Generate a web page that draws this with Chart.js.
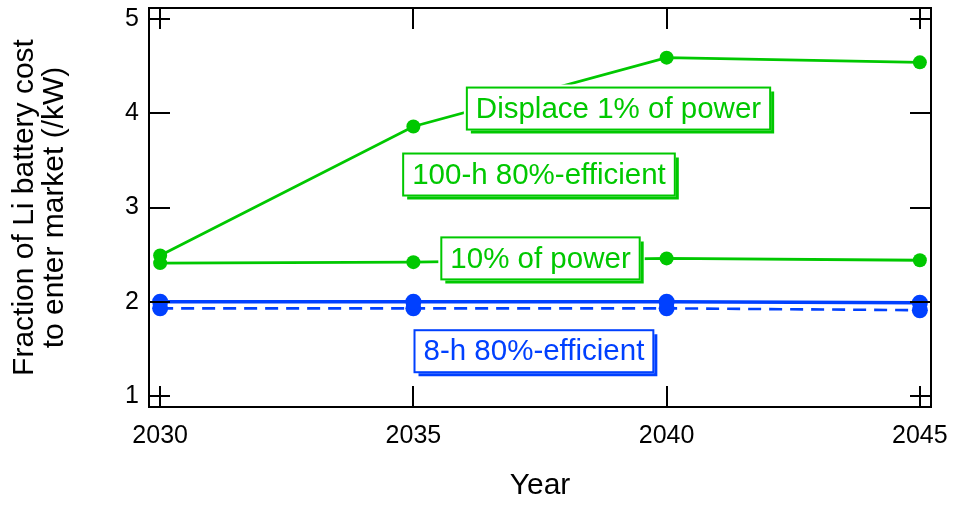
<!DOCTYPE html>
<html>
<head>
<meta charset="utf-8">
<script src="https://cdn.jsdelivr.net/npm/chart.js@4"></script>
<style>
  html, body { margin: 0; padding: 0; background: #fff; }
  #wrap { width: 954px; height: 506px; }
</style>
</head>
<body>
<div id="wrap"><canvas id="costChart" width="954" height="506"></canvas></div>
<script>
// values
const years = [2030, 2035, 2040, 2045];
const onePct100h = [2.49, 3.86, 4.59, 4.54];
const tenPct100h = [2.41, 2.42, 2.46, 2.44];
const onePct8h = [2.00, 2.00, 2.00, 1.99];
const tenPct8h = [1.93, 1.93, 1.93, 1.91];
const yTicks = [1, 2, 3, 4, 5];

const GREEN = '#00c800';
const BLUE = '#0040ff';
const FONT = "'Liberation Sans', Arial, Helvetica, sans-serif";

// boxed notes, placed in data units
const notes = [
    { text: 'Displace 1% of power', x: 2039.05, y: 4.05, color: GREEN },
    { text: '100-h 80%-efficient', x: 2037.48, y: 3.35, color: GREEN },
    { text: '10% of power', x: 2037.51, y: 2.46, color: GREEN },
    { text: '8-h 80%-efficient', x: 2037.38, y: 1.475, color: BLUE },
];

const toPoints = (vals) => years.map((yr, i) => ({ x: yr, y: vals[i] }));

const series = (vals, color, width, radius, dash) => ({
    data: toPoints(vals),
    borderColor: color,
    backgroundColor: color,
    borderWidth: width,
    borderDash: dash || [],
    pointRadius: radius,
    pointBorderWidth: 0,
    pointBackgroundColor: color,
    tension: 0,
    clip: false
});

// frame plus inward ticks on all four sides
const framePlugin = {
    id: 'frame',
    afterDatasetsDraw(chart) {
        const { ctx, chartArea: a, scales: { x, y } } = chart;
        const len = 21;
        ctx.save();
        ctx.strokeStyle = '#000';
        ctx.lineWidth = 2;
        ctx.beginPath();
        years.forEach(v => {
            const px = Math.round(x.getPixelForValue(v));
            ctx.moveTo(px, a.bottom); ctx.lineTo(px, a.bottom - len);
            ctx.moveTo(px, a.top); ctx.lineTo(px, a.top + len);
        });
        yTicks.forEach(v => {
            const py = Math.round(y.getPixelForValue(v));
            ctx.moveTo(a.left, py); ctx.lineTo(a.left + len, py);
            ctx.moveTo(a.right, py); ctx.lineTo(a.right - len, py);
        });
        ctx.stroke();
        ctx.strokeRect(a.left, a.top, a.right - a.left, a.bottom - a.top);
        ctx.restore();
    }
};

const notesPlugin = {
    id: 'notes',
    afterDatasetsDraw(chart) {
        const { ctx, scales: { x, y } } = chart;
        ctx.save();
        ctx.font = '29.5px ' + FONT;
        ctx.textAlign = 'center';
        ctx.textBaseline = 'middle';
        notes.forEach(n => {
            const cx = x.getPixelForValue(n.x);
            const cy = y.getPixelForValue(n.y);
            const w = ctx.measureText(n.text).width + 18;
            const h = 42;
            const l = cx - w / 2, t = cy - h / 2;
            ctx.fillStyle = '#fff';
            ctx.fillRect(l - 3, t - 3, w + 8, h + 8);
            ctx.strokeStyle = n.color;
            ctx.lineWidth = 2;
            ctx.strokeRect(l, t, w, h);
            // drop shadow on right and bottom
            ctx.lineWidth = 3;
            ctx.beginPath();
            ctx.moveTo(l + w + 2.5, t + 4);
            ctx.lineTo(l + w + 2.5, t + h + 2.5);
            ctx.lineTo(l + 4, t + h + 2.5);
            ctx.stroke();
            ctx.fillStyle = n.color;
            ctx.fillText(n.text, cx, cy + 1);
        });
        ctx.restore();
    }
};

const config = {
    type: 'line',
    data: {
        datasets: [
            series(onePct100h, GREEN, 2.8, 7),
            series(tenPct100h, GREEN, 2.8, 7),
            series(onePct8h, BLUE, 3.5, 8),
            series(tenPct8h, BLUE, 2.6, 8, [13, 8])
        ]
    },
    options: {
        responsive: false,
        animation: false,
        layout: { padding: { left: 0, right: 23, top: 8, bottom: 0 } },
        plugins: { legend: { display: false }, tooltip: { enabled: false } },
        scales: {
            x: {
                type: 'linear',
                min: 2029.78,
                max: 2045.22,
                afterBuildTicks: (s) => { s.ticks = years.map(v => ({ value: v })); },
                afterFit: (s) => { s.height = 99; s.paddingLeft = 0; s.paddingRight = 0; },
                grid: { display: false, drawTicks: false },
                border: { display: false },
                ticks: {
                    color: '#000',
                    padding: 14,
                    maxRotation: 0,
                    font: { family: FONT, size: 25 },
                    callback: (v) => String(v)
                },
                title: {
                    display: true,
                    text: 'Year',
                    color: '#000',
                    font: { family: FONT, size: 30 },
                    padding: { top: 0, bottom: 2 }
                }
            },
            y: {
                min: 0.883,
                max: 5.117,
                afterBuildTicks: (s) => { s.ticks = yTicks.map(v => ({ value: v })); },
                afterFit: (s) => { s.width = 149; s.paddingTop = 0; s.paddingBottom = 0; },
                grid: { display: false, drawTicks: false },
                border: { display: false },
                ticks: {
                    color: '#000',
                    padding: 10,
                    font: { family: FONT, size: 25 },
                    callback: (v) => String(v)
                },
                title: {
                    display: true,
                    text: ['Fraction of Li battery cost', 'to enter market (/kW)'],
                    color: '#000',
                    font: { family: FONT, size: 30, lineHeight: 1.0 },
                    padding: { top: 10, bottom: 0 }
                }
            }
        }
    },
    plugins: [framePlugin, notesPlugin]
};

const chart = new Chart(document.getElementById('costChart'), config);
</script>
</body>
</html>
